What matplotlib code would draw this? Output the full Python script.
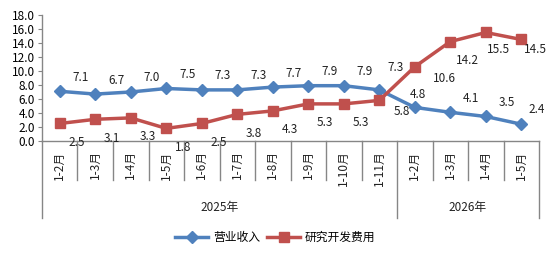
import matplotlib
matplotlib.use("Agg")
import matplotlib.pyplot as plt
import matplotlib.transforms as mtransforms
import numpy as np

plt.rcParams['font.family'] = ['Noto Sans CJK SC', 'DejaVu Sans']

# data
months = ['1-2月', '1-3月', '1-4月', '1-5月', '1-6月', '1-7月', '1-8月', '1-9月',
          '1-10月', '1-11月', '1-2月', '1-3月', '1-4月', '1-5月']
years = ['2025年', '2026年']
year_sizes = [10, 4]
revenue = [7.1, 6.7, 7.0, 7.5, 7.3, 7.3, 7.7, 7.9, 7.9, 7.3, 4.8, 4.1, 3.5, 2.4]
rd_cost = [2.5, 3.1, 3.3, 1.8, 2.5, 3.8, 4.3, 5.3, 5.3, 5.8, 10.6, 14.2, 15.5, 14.5]

blue = '#4F81BD'
red = '#C0504D'
grey = '#868686'

# label offsets (pixels) where the default spot would collide
rev_off = {9: (16, 22), 10: (3, 13), 13: (15, 15)}
rd_off = {9: (23, -11), 10: (30, -12), 12: (13, -17), 13: (14, -10)}

fig = plt.figure(figsize=(5.54, 2.58), dpi=100)
ax = fig.add_axes([0.0758, 0.4535, 0.8972, 0.4884])

x = np.arange(len(months))
ax.plot(x, revenue, color=blue, lw=2.5, marker='D', ms=6, label='营业收入')
ax.plot(x, rd_cost, color=red, lw=2.5, marker='s', ms=7, label='研究开发费用')

for i, v in enumerate(revenue):
    ax.annotate(f'{v:.1f}', (x[i], v), xytext=rev_off.get(i, (21, 14)),
                textcoords='offset pixels', ha='center', va='center',
                fontsize=8.5, color='#222222')
for i, v in enumerate(rd_cost):
    ax.annotate(f'{v:.1f}', (x[i], v), xytext=rd_off.get(i, (17, -19)),
                textcoords='offset pixels', ha='center', va='center',
                fontsize=8.5, color='#222222')

ax.set_xlim(-0.5, len(months) - 0.5)
ax.set_ylim(0, 18)
ax.set_yticks(np.arange(0, 19, 2))
ax.set_yticklabels([f'{t:.1f}' for t in np.arange(0, 19, 2)], fontsize=8.5)
ax.tick_params(axis='y', length=3, color=grey, pad=2)
ax.set_xticks([])

for s in ['top', 'right']:
    ax.spines[s].set_visible(False)
for s in ['left', 'bottom']:
    ax.spines[s].set_color(grey)
    ax.spines[s].set_linewidth(1)

# multi-level category axis
trans = mtransforms.blended_transform_factory(ax.transData, ax.transAxes)
bounds = np.cumsum([0] + year_sizes) - 0.5
for b in np.arange(-0.5, len(months), 1.0):
    low = -0.611 if b in bounds else -0.31
    ax.plot([b, b], [0, low], transform=trans, color=grey, lw=1, clip_on=False)
for xi, m in zip(x, months):
    ax.text(xi, -0.075, m, transform=trans, rotation=90, ha='center', va='top',
            fontsize=8.5, color='#222222')
for i, y in enumerate(years):
    mid = (bounds[i] + bounds[i + 1]) / 2
    ax.text(mid, -0.525, y, transform=trans, ha='center', va='center',
            fontsize=8.5, color='#222222')

fig.legend(loc='center', bbox_to_anchor=(0.497, 0.08), ncol=2, frameon=False,
           fontsize=8.5, handlelength=2.8, columnspacing=0.6, handletextpad=0.4)

fig.savefig('out.png', dpi=100)
